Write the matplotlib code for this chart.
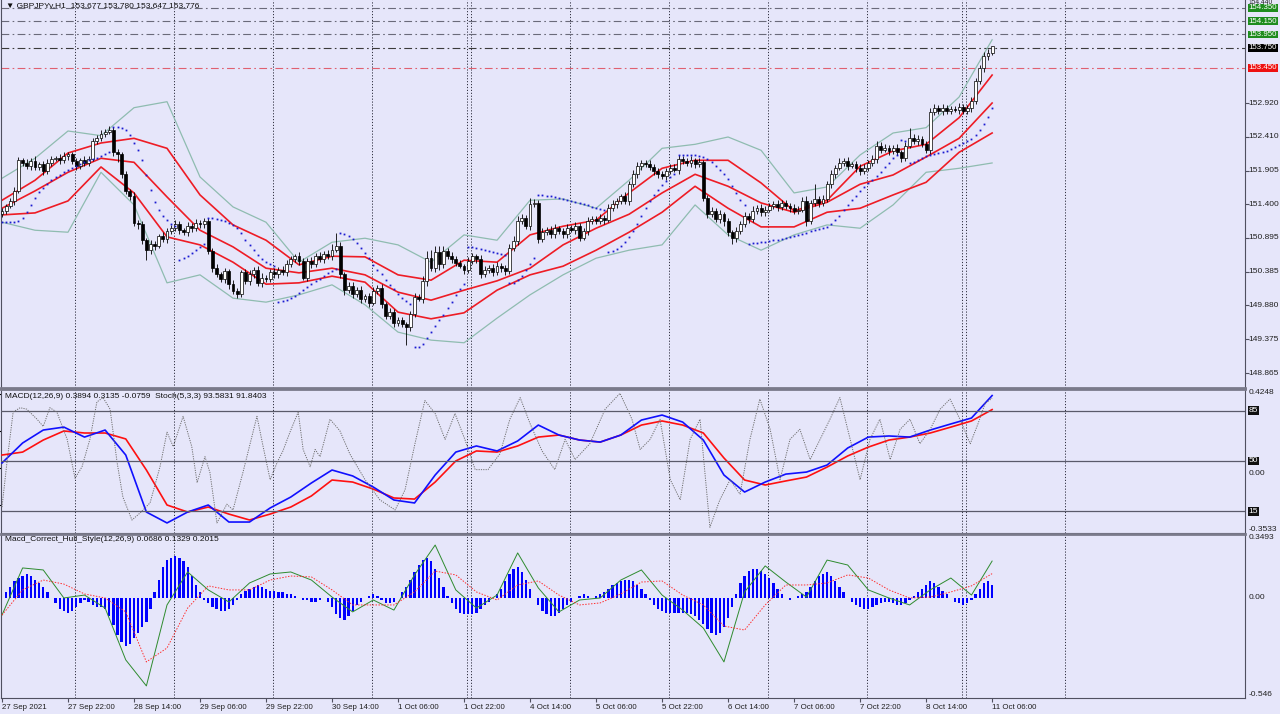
import numpy as np
import matplotlib
matplotlib.use("Agg")
import matplotlib.pyplot as plt
from matplotlib.transforms import blended_transform_factory

plt.rcParams['font.family'] = ['Liberation Sans', 'DejaVu Sans']

# ---------- price data (H1 bars, 27 Sep 06:00 .. 11 Oct 06:00) ----------
first_open = 151.25
closes = [
    151.30, 151.38, 151.45, 151.60, 152.06, 152.02, 151.98, 152.05, 151.96, 152.00,
    151.90, 152.02, 152.08, 152.10, 152.06, 152.12, 152.15, 152.05, 151.98, 152.06,
    152.02, 152.08, 152.35, 152.40, 152.45, 152.48, 152.52, 152.18, 152.15, 151.85,
    151.60, 151.52, 151.12, 151.10, 150.86, 150.71, 150.80, 150.78, 150.92, 150.88,
    151.00, 151.05, 151.10, 151.02, 150.98, 151.08, 151.04, 151.12, 151.10, 151.15,
    150.70, 150.45, 150.35, 150.28, 150.40, 150.20, 150.10, 150.05, 150.38, 150.25,
    150.35, 150.42, 150.22, 150.30, 150.28, 150.38, 150.35, 150.42, 150.38, 150.50,
    150.58, 150.62, 150.55, 150.30, 150.55, 150.50, 150.62, 150.58, 150.66, 150.62,
    150.72, 150.78, 150.35, 150.12, 150.18, 150.05, 150.12, 149.98, 150.02, 149.92,
    150.10, 150.15, 149.90, 149.72, 149.78, 149.62, 149.66, 149.60, 149.55, 149.75,
    150.00, 149.98, 150.25, 150.60, 150.45, 150.68, 150.50, 150.70, 150.62, 150.58,
    150.52, 150.48, 150.42, 150.55, 150.62, 150.58, 150.35, 150.42, 150.45, 150.38,
    150.48, 150.44, 150.40, 150.75, 150.85, 151.15, 151.20, 151.08, 151.40, 151.42,
    150.88, 150.98, 151.02, 150.95, 151.05, 151.00, 150.95, 151.05, 151.02, 151.08,
    150.90, 151.00, 151.15, 151.18, 151.15, 151.20, 151.17, 151.35, 151.40, 151.45,
    151.52, 151.45, 151.70, 151.85, 151.98, 152.02, 152.00, 151.96, 151.90, 151.85,
    151.82, 151.90, 151.95, 151.92, 152.08, 152.05, 152.02, 152.06, 152.00, 152.04,
    151.50, 151.25, 151.30, 151.18, 151.25, 151.15, 150.98, 150.90, 151.00, 151.10,
    151.22, 151.18, 151.30, 151.35, 151.28, 151.32, 151.38, 151.40, 151.36, 151.42,
    151.38, 151.35, 151.30, 151.32, 151.45, 151.15, 151.42, 151.48, 151.42, 151.48,
    151.70, 151.85, 151.95, 152.02, 152.05, 151.98, 152.00, 151.94, 151.90, 151.95,
    152.02, 152.08, 152.28, 152.22, 152.25, 152.20, 152.24, 152.18, 152.10, 152.28,
    152.40, 152.35, 152.38, 152.30, 152.22, 152.78, 152.85, 152.80, 152.84, 152.80,
    152.83, 152.82, 152.86, 152.80, 152.84, 152.95, 153.25, 153.45, 153.62, 153.677,
    153.776,
]
# wick lengths beyond the body, in pips
wick_up = [
    4, 3, 5, 6, 5, 4, 6, 5, 7, 4,   5, 6, 4, 3, 5, 6, 4, 3, 5, 4,
    6, 4, 5, 4, 6, 5, 6, 4, 5, 4,   5, 3, 6, 4, 5, 4, 6, 5, 4, 6,
    5, 4, 6, 5, 3, 5, 4, 6, 4, 5,   4, 5, 6, 4, 5, 3, 6, 5, 4, 5,
    6, 4, 5, 7, 4, 5, 6, 4, 5, 6,   5, 4, 6, 5, 4, 6, 5, 7, 4, 6,
    8, 19, 5, 4, 6, 5, 4, 6, 3, 5,  6, 4, 5, 3, 6, 4, 5, 4, 3, 5,
    6, 5, 8, 10, 12, 9, 10, 8, 5, 6, 4, 5, 3, 6, 5, 4, 6, 5, 4, 5,
    6, 4, 5, 6, 8, 7, 6, 4, 10, 6,  5, 6, 4, 5, 6, 3, 5, 6, 4, 5,
    4, 5, 6, 4, 5, 6, 4, 5, 6, 5,   4, 6, 5, 7, 6, 5, 4, 6, 5, 4,
    5, 4, 6, 5, 6, 4, 5, 6, 4, 5,   3, 4, 6, 5, 7, 4, 5, 3, 6, 5,
    6, 5, 7, 4, 5, 6, 4, 5, 6, 4,   5, 4, 6, 5, 6, 7, 5, 22, 5, 6,
    5, 6, 4, 7, 5, 6, 4, 5, 6, 5,   4, 6, 7, 5, 6, 4, 5, 6, 4, 6,
    14, 5, 6, 4, 5, 6, 5, 4, 6, 5,  4, 5, 6, 4, 5, 6, 5, 4, 6, 5,
    0,
]
wick_dn = [
    4, 5, 3, 6, 3, 4, 5, 6, 4, 5,   6, 4, 5, 3, 6, 4, 5, 4, 6, 5,
    4, 5, 3, 4, 5, 4, 3, 5, 12, 6,  5, 6, 4, 7, 5, 15, 5, 6, 4, 5,
    6, 4, 5, 6, 4, 5, 6, 4, 5, 6,   5, 6, 4, 5, 6, 7, 5, 6, 4, 5,
    6, 5, 4, 6, 5, 4, 6, 5, 4, 5,   4, 5, 6, 4, 5, 6, 4, 5, 6, 4,
    5, 4, 6, 8, 5, 6, 4, 7, 5, 6,   4, 5, 6, 5, 4, 6, 5, 4, 27, 6,
    5, 4, 6, 7, 5, 6, 8, 5, 4, 6,   5, 4, 6, 5, 4, 6, 5, 4, 5, 6,
    4, 5, 6, 4, 5, 6, 4, 5, 6, 4,   6, 5, 4, 6, 5, 4, 6, 5, 4, 6,
    5, 4, 6, 5, 4, 5, 6, 4, 5, 6,   4, 5, 6, 4, 5, 6, 4, 5, 6, 5,
    4, 6, 5, 4, 6, 5, 4, 6, 5, 4,   5, 6, 4, 5, 6, 7, 5, 10, 6, 5,
    4, 6, 5, 4, 6, 5, 4, 5, 6, 4,   5, 6, 4, 5, 4, 8, 5, 4, 6, 5,
    4, 5, 6, 4, 5, 6, 4, 5, 6, 4,   5, 4, 6, 5, 4, 6, 5, 4, 6, 5,
    4, 5, 6, 4, 5, 6, 4, 5, 6, 4,   5, 4, 6, 5, 4, 5, 4, 5, 6, 5,
    3,
]
# parabolic SAR, one dot per bar
sar = [
    151.13, 151.13, 151.13, 151.13, 151.15, 151.19, 151.28, 151.39, 151.49, 151.58,
    151.64, 151.70, 151.76, 151.81, 151.84, 151.88, 151.91, 151.94, 151.97, 152.00,
    152.03, 152.06, 152.08, 152.09, 152.12, 152.15, 152.18, 152.56, 152.56, 152.55,
    152.51, 152.44, 152.32, 152.21, 152.06, 151.84, 151.61, 151.43, 151.31, 151.22,
    151.16, 151.10, 151.07, 150.56, 150.59, 150.62, 150.67, 150.71, 150.76, 150.80,
    151.19, 151.19, 151.18, 151.16, 151.15, 151.12, 151.09, 151.04, 150.97, 150.86,
    150.79, 150.71, 150.64, 150.58, 150.53, 150.50, 150.47, 149.93, 149.95, 149.96,
    149.99, 150.02, 150.07, 150.11, 150.16, 150.20, 150.25, 150.28, 150.32, 150.37,
    150.40, 150.43, 150.97, 150.95, 150.92, 150.88, 150.82, 150.74, 150.67, 150.59,
    150.49, 150.41, 150.35, 150.26, 150.19, 150.13, 150.05, 149.99, 149.95, 149.90,
    149.26, 149.26, 149.30, 149.39, 149.48, 149.57, 149.66, 149.74, 149.84, 149.93,
    150.04, 150.13, 150.20, 150.76, 150.76, 150.74, 150.73, 150.71, 150.70, 150.68,
    150.67, 150.65, 150.64, 150.22, 150.22, 150.26, 150.32, 150.41, 150.50, 150.59,
    151.54, 151.54, 151.52, 151.52, 151.51, 151.49, 151.48, 151.46, 151.45, 151.43,
    151.42, 151.40, 151.39, 151.36, 151.34, 151.33, 151.31, 150.68, 150.70, 150.73,
    150.77, 150.83, 150.91, 151.00, 151.10, 151.22, 151.34, 151.45, 151.54, 151.61,
    151.69, 151.75, 151.81, 151.85, 152.14, 152.14, 152.14, 152.14, 152.14, 152.12,
    152.11, 152.08, 152.03, 151.97, 151.91, 151.85, 151.78, 151.67, 151.57, 151.46,
    151.39, 150.80, 150.82, 150.82, 150.83, 150.83, 150.85, 150.86, 150.86, 150.88,
    150.89, 150.91, 150.92, 150.94, 150.95, 150.97, 151.00, 151.01, 151.03, 151.04,
    151.06, 151.10, 151.16, 151.22, 151.31, 151.39, 151.46, 151.52, 151.60, 151.66,
    151.72, 151.76, 151.82, 151.88, 151.96, 152.02, 152.09, 152.14, 152.36, 152.35,
    152.02, 152.03, 152.06, 152.09, 152.12, 152.14, 152.15, 152.17, 152.18, 152.20,
    152.23, 152.26, 152.29, 152.32, 152.35, 152.38, 152.44, 152.51, 152.60, 152.71,
    152.85,
]

# bands, read every 8 bars
band_step = 8
red_upper = [151.46, 151.76, 152.17, 152.32, 152.39, 152.24, 151.54, 151.09, 150.86, 150.49,
             150.62, 150.61, 150.34, 150.26, 150.56, 150.53, 150.94, 151.07, 151.16, 151.57,
             151.94, 152.06, 152.06, 151.72, 151.30, 151.46, 151.97, 152.20, 152.30, 152.70, 153.34]
red_mid = [151.34, 151.60, 151.88, 152.09, 152.03, 151.51, 151.01, 150.76, 150.44, 150.37,
           150.44, 150.34, 150.08, 149.96, 150.11, 150.25, 150.44, 150.79, 151.04, 151.25,
           151.57, 151.85, 151.67, 151.42, 151.28, 151.43, 151.70, 151.84, 152.11, 152.39, 152.92]
red_lower = [151.24, 151.27, 151.45, 151.96, 151.57, 150.91, 150.79, 150.53, 150.20, 150.22,
             150.32, 150.23, 149.78, 149.68, 149.77, 150.11, 150.34, 150.47, 150.71, 150.98,
             151.28, 151.67, 151.34, 151.06, 151.06, 151.28, 151.34, 151.54, 151.73, 152.18, 152.47]
bb_upper = [151.79, 152.09, 152.50, 152.43, 152.85, 152.94, 151.81, 151.36, 151.13, 150.53,
            150.83, 150.89, 150.79, 150.53, 150.94, 150.86, 151.46, 151.48, 151.34, 151.76,
            152.24, 152.30, 152.41, 152.21, 151.57, 151.66, 152.14, 152.47, 152.55, 153.01, 153.87]
bb_lower = [151.13, 151.01, 150.98, 151.88, 151.39, 150.22, 150.34, 149.99, 149.93, 150.04,
            150.19, 149.89, 149.48, 149.36, 149.32, 149.69, 150.04, 150.34, 150.59, 150.71,
            150.79, 151.39, 150.94, 150.71, 150.94, 151.09, 151.04, 151.39, 151.88, 151.94, 152.02]

price_ticks = [152.920, 152.410, 151.905, 151.400, 150.895, 150.385, 149.880, 149.375, 148.865]
level_prices = [154.350, 154.150, 153.950, 153.750, 153.450]
level_boxes = ['#1e8c1e', '#1e8c1e', '#1e8c1e', '#000000', '#ee1111']
level_lines = ['#6a6a7a', '#6a6a7a', '#6a6a7a', '#3a3a3a', '#e06070']

# ---------- oscillators, read every 5 bars ----------
osc_step = 5
macd_main = [0.025, 0.133, 0.203, 0.219, 0.165, 0.203, 0.068, -0.240, -0.299, -0.240,
             -0.202, -0.294, -0.294, -0.218, -0.159, -0.083, -0.013, -0.045, -0.105, -0.175,
             -0.191, -0.040, 0.084, 0.117, 0.090, 0.144, 0.230, 0.176, 0.149, 0.138,
             0.176, 0.257, 0.284, 0.246, 0.149, -0.040, -0.132, -0.078, -0.035, -0.024,
             0.014, 0.106, 0.165, 0.171, 0.165, 0.203, 0.236, 0.268, 0.3894]
macd_signal = [0.068, 0.084, 0.149, 0.198, 0.187, 0.187, 0.155, -0.013, -0.202, -0.240,
               -0.213, -0.251, -0.283, -0.251, -0.213, -0.153, -0.067, -0.078, -0.116, -0.164,
               -0.170, -0.078, 0.036, 0.090, 0.084, 0.117, 0.165, 0.176, 0.149, 0.138,
               0.176, 0.230, 0.252, 0.230, 0.187, 0.052, -0.067, -0.094, -0.072, -0.051,
               0.003, 0.063, 0.111, 0.149, 0.165, 0.187, 0.219, 0.252, 0.3135]
stoch_bars = [0, 1.2, 2.7, 4.4, 6, 8.5, 10, 11.6, 13.3, 15.8,
              17.7, 19.4, 21.3, 23, 24.5, 26.2, 27.9, 29.3, 31.5, 33.5,
              35.9, 38.3, 40, 41.5, 43.9, 46, 47.3, 49.2, 50.4, 52.1,
              54.5, 56, 58.4, 61.8, 63.3, 65, 66.7, 68.1, 69.8, 71.8,
              73, 74.7, 75.9, 77.1, 79.5, 81.9, 84.3, 88, 91.6, 95.3,
              97.7, 100.1, 102.5, 105, 107.4, 109.8, 112.2, 114.7, 117.8, 120.7,
              123.1, 125.6, 128, 130.9, 134, 136.5, 138.9, 142.5, 146.2, 149.8,
              152.7, 154.7, 157.1, 159.5, 162, 164.4, 166.8, 169.2, 171.6, 174,
              176.5, 178.9, 181.3, 183.7, 186.2, 188.6, 191, 193.4, 195.9, 198.3,
              200.7, 203.1, 205.6, 208, 210.4, 212.8, 215.3, 217.7, 220.1, 222.5,
              225, 227.4, 229.8, 232.2, 234.7, 236.6, 238.3, 240]
stoch_vals = [18, 49, 84, 87, 86, 79, 74, 87, 84, 65,
              38, 46, 65, 91, 94, 86, 49, 25, 9, 14,
              21, 46, 70, 60, 81, 60, 35, 53, 42, 7,
              20, 16, 42, 81, 60, 37, 49, 57, 70, 84,
              58, 46, 58, 53, 79, 71, 55, 37, 23, 16,
              30, 62, 92, 83, 65, 83, 65, 44, 44, 55,
              79, 94, 76, 57, 44, 65, 51, 62, 86, 97,
              79, 58, 65, 79, 37, 23, 65, 79, 4, 23,
              37, 27, 65, 93, 72, 37, 65, 72, 51, 65,
              79, 94, 65, 37, 65, 79, 51, 72, 79, 62,
              72, 86, 93, 79, 62, 76, 90, 93.58]
stoch_levels = [85, 50, 15]

hull_main = [-0.093, 0.164, 0.153, 0.000, 0.016, -0.055, -0.338, -0.480, -0.038, 0.142,
             0.044, -0.022, 0.082, 0.131, 0.142, 0.098, 0.005, -0.076, -0.011, -0.066,
             0.126, 0.289, 0.044, -0.055, 0.016, 0.246, 0.055, -0.076, -0.011, 0.000,
             0.098, 0.153, 0.016, -0.066, -0.164, -0.349, 0.033, 0.175, 0.087, 0.005,
             0.207, 0.180, 0.044, 0.000, -0.038, 0.044, 0.109, 0.016, 0.2015]
hull_signal = [-0.093, 0.044, 0.098, 0.076, 0.022, 0.000, -0.076, -0.349, -0.273, -0.055,
               0.066, 0.044, 0.044, 0.098, 0.120, 0.115, 0.044, -0.038, -0.038, -0.038,
               0.033, 0.147, 0.126, 0.033, -0.011, 0.071, 0.093, 0.016, -0.038, -0.027,
               0.022, 0.087, 0.093, 0.016, -0.038, -0.153, -0.175, -0.038, 0.071, 0.071,
               0.082, 0.126, 0.109, 0.044, 0.000, 0.005, 0.033, 0.066, 0.1329]
hull_hist = [
    0.00, 0.03, 0.06, 0.09, 0.11, 0.12, 0.13, 0.12, 0.10, 0.08,
    0.06, 0.03, 0.00, -0.03, -0.06, -0.07, -0.08, -0.07, -0.05, -0.03,
    -0.01, -0.02, -0.04, -0.05, -0.05, -0.06, -0.10, -0.15, -0.20, -0.24,
    -0.26, -0.25, -0.22, -0.19, -0.16, -0.13, -0.06, 0.03, 0.10, 0.17,
    0.21, 0.22, 0.23, 0.22, 0.20, 0.17, 0.12, 0.07, 0.03, -0.01,
    -0.03, -0.05, -0.06, -0.07, -0.07, -0.06, -0.04, -0.01, 0.02, 0.04,
    0.05, 0.06, 0.07, 0.06, 0.05, 0.04, 0.04, 0.03, 0.03, 0.02,
    0.02, 0.01, 0.00, -0.01, -0.01, -0.02, -0.02, -0.01, 0.00, -0.02,
    -0.05, -0.09, -0.11, -0.12, -0.10, -0.07, -0.04, -0.02, 0.00, 0.01,
    0.02, 0.01, -0.01, -0.03, -0.03, -0.02, 0.00, 0.03, 0.06, 0.10,
    0.14, 0.18, 0.21, 0.22, 0.20, 0.16, 0.11, 0.06, 0.01, -0.03,
    -0.06, -0.08, -0.09, -0.09, -0.09, -0.08, -0.06, -0.04, -0.02, 0.00,
    0.02, 0.05, 0.09, 0.13, 0.16, 0.17, 0.14, 0.10, 0.05, 0.00,
    -0.04, -0.07, -0.09, -0.10, -0.10, -0.08, -0.06, -0.04, -0.02, 0.00,
    0.01, 0.02, 0.01, 0.00, 0.01, 0.02, 0.03, 0.05, 0.07, 0.08,
    0.09, 0.10, 0.10, 0.09, 0.07, 0.05, 0.02, -0.01, -0.04, -0.06,
    -0.07, -0.08, -0.08, -0.08, -0.08, -0.08, -0.08, -0.09, -0.10, -0.12,
    -0.14, -0.17, -0.19, -0.20, -0.19, -0.16, -0.11, -0.05, 0.02, 0.08,
    0.12, 0.15, 0.16, 0.16, 0.15, 0.13, 0.11, 0.08, 0.05, 0.02,
    0.00, -0.01, 0.00, 0.01, 0.02, 0.03, 0.06, 0.09, 0.12, 0.13,
    0.14, 0.12, 0.09, 0.06, 0.03, 0.00, -0.02, -0.04, -0.05, -0.06,
    -0.06, -0.05, -0.04, -0.03, -0.02, -0.02, -0.03, -0.04, -0.04, -0.03,
    -0.01, 0.01, 0.03, 0.05, 0.07, 0.09, 0.08, 0.06, 0.04, 0.02,
    0.00, -0.02, -0.03, -0.04, -0.03, -0.01, 0.02, 0.05, 0.08, 0.09,
    0.0686,
]

time_labels = ['27 Sep 2021', '27 Sep 22:00', '28 Sep 14:00', '29 Sep 06:00', '29 Sep 22:00',
               '30 Sep 14:00', '1 Oct 06:00', '1 Oct 22:00', '4 Oct 14:00', '5 Oct 06:00',
               '5 Oct 22:00', '6 Oct 14:00', '7 Oct 06:00', '7 Oct 22:00', '8 Oct 14:00',
               '11 Oct 06:00']
day_lines = [17.6, 41.6, 65.6, 89.6, 112.8, 113.6, 137.6, 161.6, 185.6, 209.6, 232.8, 233.6, 257.6]

# ---------- figure ----------
BG = '#e6e6fa'
W, H = 1280, 714
fig = plt.figure(figsize=(W / 100, H / 100), dpi=100, facecolor=BG)


def panel(top, bottom):
    ax = fig.add_axes([1 / W, 1 - bottom / H, 1244 / W, (bottom - top) / H], facecolor=BG)
    ax.set_xlim(-0.24, 301.3)
    ax.tick_params(bottom=False, labelbottom=False, left=False, labelleft=False)
    for s in ax.spines.values():
        s.set_color('#505060')
        s.set_linewidth(0.8)
    for d in day_lines:
        ax.axvline(d, color='#303040', lw=0.7, ls=(0, (1.2, 1.8)), zorder=1)
    return ax


def rlabel(ax, y, text, va='center', box=None, fs=6, z=3, pad=0.1):
    tr = blended_transform_factory(ax.transAxes, ax.transData)
    kw = {}
    color = '#202020'
    if box is not None:
        kw['bbox'] = dict(boxstyle=f'square,pad={pad}', fc=box, ec='none')
        color = 'white'
    ax.text(1.003, y, text, transform=tr, fontsize=fs, va=va, ha='left', color=color,
            clip_on=False, zorder=z, **kw)


ax1 = panel(0, 388)
ax2 = panel(389, 533)
ax3 = panel(534, 698)
for ax in (ax2, ax3):
    ax.spines['top'].set_color('#7a7a8a')
    ax.spines['top'].set_linewidth(2.0)
ax1.spines['top'].set_visible(False)
ax1.spines['bottom'].set_color('#7a7a8a')
ax1.spines['bottom'].set_linewidth(2.0)

# ---- main price panel ----
ax1.set_ylim(148.641, 154.467)
c = np.array(closes)
o = np.array([first_open] + closes[:-1])
bars = np.arange(len(c))
hi = np.maximum(o, c) + np.array(wick_up) / 100
lo = np.minimum(o, c) - np.array(wick_dn) / 100

bb = np.arange(0, len(c), band_step)
ax1.plot(bb, bb_upper, color='#8fbcb0', lw=0.9, zorder=2)
ax1.plot(bb, bb_lower, color='#8fbcb0', lw=0.9, zorder=2)
for line in (red_upper, red_mid, red_lower):
    ax1.plot(bb, line, color='#ee1c25', lw=1.2, zorder=2)

ax1.vlines(bars, lo, hi, color='black', lw=0.6, zorder=3)
body = np.maximum(np.abs(c - o), 0.004)
ax1.bar(bars, body, bottom=np.minimum(o, c), width=0.7,
        color=np.where(c >= o, 'white', 'black'), edgecolor='black', linewidth=0.5, zorder=4)
ax1.plot(bars, sar, ls='none', marker='s', ms=1.3, mew=0, color='#1a1ad0', zorder=5)

for val, bcol, lcol in zip(level_prices, level_boxes, level_lines):
    ax1.axhline(val, color=lcol, lw=0.8, ls=(0, (7, 3, 1.5, 3)), zorder=1)
    rlabel(ax1, val, f'{val:.3f}', box=bcol, fs=5.7, z=4, pad=0.05)

ax1.yaxis.tick_right()
ax1.tick_params(right=True, labelright=False, length=3, color='#505060')
ax1.set_yticks(price_ticks)
for t in price_ticks:
    rlabel(ax1, t, f'{t:.3f}')
# top-of-scale value, squeezed above the first level box as in the terminal
ax1.text(1.003, 1.003, '154.440', transform=ax1.transAxes, fontsize=4.8, va='top', ha='left',
         color='#202020', clip_on=False, zorder=5)
ax1.text(0.004, 0.996, '\u25bc GBPJPYv,H1  153.677 153.780 153.647 153.776',
         transform=ax1.transAxes, fontsize=6, va='top', ha='left', color='#101010')

# ---- MACD + Stoch panel ----
ax2.set_ylim(-0.3533, 0.4248)
ax2s = ax2.twinx()
ax2s.set_ylim(0, 100)
ax2s.set_xlim(-0.24, 301.3)
for s in ax2s.spines.values():
    s.set_visible(False)
ax2s.tick_params(right=False, labelright=False)
for lv in stoch_levels:
    ax2s.axhline(lv, color='#5a5a6a', lw=0.9, zorder=1)
    rlabel(ax2s, lv, str(lv), box='#101010')
ax2s.plot(stoch_bars, stoch_vals, color='#6e6e6e', lw=0.7, ls=(0, (1.2, 1.2)))
ob = np.arange(0, len(c), osc_step)
ax2.plot(ob, macd_signal, color='#ff1010', lw=1.2, zorder=3)
ax2.plot(ob, macd_main, color='#1010ff', lw=1.2, zorder=3)
rlabel(ax2, 0.4248, '0.4248', va='top')
rlabel(ax2, -0.012, '0.00', va='top')
rlabel(ax2, -0.3533, '-0.3533', va='bottom')
ax2.text(0.003, 0.975, 'MACD(12,26,9) 0.3894 0.3135 -0.0759  Stoch(5,3,3) 93.5831 91.8403',
         transform=ax2.transAxes, fontsize=6, va='top', ha='left', color='#101010', zorder=6)

# ---- Hull MACD panel ----
ax3.set_ylim(-0.546, 0.3493)
ax3.bar(np.arange(len(hull_hist)), hull_hist, width=0.55, color='#0000ff', zorder=3)
ax3.plot(ob, hull_main, color='#2e8b2e', lw=0.7, zorder=4)
ax3.plot(ob, hull_signal, color='#ff3030', lw=0.7, ls=(0, (1.5, 1.5)), zorder=4)
rlabel(ax3, 0.3493, '0.3493', va='top')
rlabel(ax3, 0.0, '0.00')
rlabel(ax3, -0.546, '-0.546', va='bottom')
ax3.text(0.003, 0.985, 'Macd_Correct_Hull_Style(12,26,9) 0.0686 0.1329 0.2015',
         transform=ax3.transAxes, fontsize=6, va='top', ha='left', color='#101010')

ax3.set_xticks(np.arange(0, 16 * len(time_labels), 16))
ax3.set_xticklabels(time_labels, fontsize=5.7, ha='left', color='#202020')
ax3.tick_params(bottom=True, labelbottom=True, length=3, pad=1.5, color='#505060')

fig.savefig('out.png', dpi=100, facecolor=BG)
